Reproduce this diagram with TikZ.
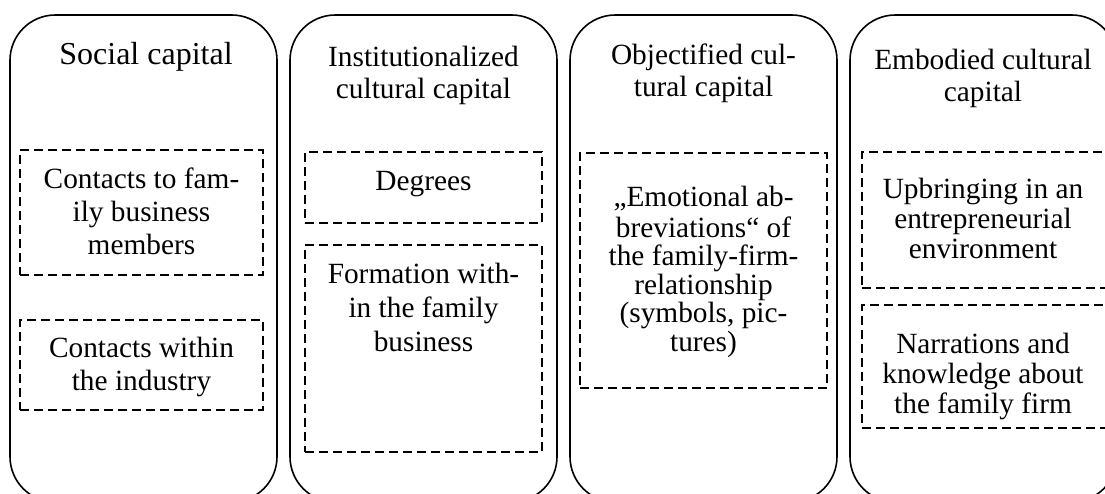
\documentclass[tikz,border=0pt]{standalone}
\usepackage{fontspec}
\setmainfont{Liberation Serif}
\begin{document}
\begin{tikzpicture}[x=0.75pt,y=-0.75pt,
  capbox/.style={draw, line width=1.2pt, rounded corners=34pt, minimum width=200.25pt, minimum height=365.25pt, inner sep=0pt},
  itembox/.style={draw, line width=1.5pt, dash pattern=on 6.5pt off 4pt, inner sep=0pt},
  lbl/.style={anchor=north, align=center, inner sep=0pt},
  ttl/.style={lbl, font=\fontsize{22}{24}\selectfont},
  ttlbig/.style={lbl, font=\fontsize{24}{26}\selectfont},
  txa/.style={lbl, font=\fontsize{22}{24.75}\selectfont},
  txb/.style={lbl, font=\fontsize{22}{25.5}\selectfont},
  txc/.style={lbl, font=\fontsize{22}{21.4}\selectfont},
  txd/.style={lbl, font=\fontsize{22}{22.5}\selectfont}]
\useasboundingbox (0,0) rectangle (1105,493);
\clip (0,0) rectangle (1105,493);
% main capital boxes
\node[capbox] (soc) at (143.5,258.5) {};
\node[capbox] (ins) at (423.5,258.5) {};
\node[capbox] (obj) at (703.5,258.5) {};
\node[capbox] (emb) at (983.5,258.5) {};
% titles
\node[ttlbig] (soct) at (146,39.7) {\strut Social capital};
\node[ttl] (inst) at (423.5,43.6) {\strut Institutionalized\\cultural capital};
\node[ttl] (objt) at (703.5,41.6) {\strut Objectified cul-\\tural capital};
\node[ttl] (embt) at (983,46.6) {\strut Embodied cultural\\capital};
% dashed item boxes
\node[itembox, minimum width=182.25pt, minimum height=93.75pt] (a1) at (141.5,212.5) {};
\node[itembox, minimum width=182.25pt, minimum height=67.5pt] (a2) at (141.5,365) {};
\node[itembox, minimum width=177.75pt, minimum height=53.25pt] (b1) at (423.5,187.5) {};
\node[itembox, minimum width=177.75pt, minimum height=155.25pt] (b2) at (423.5,348.5) {};
\node[itembox, minimum width=185.25pt, minimum height=176.25pt] (c1) at (703.5,270.5) {};
\node[itembox, minimum width=186pt, minimum height=102pt] (d1) at (986,220) {};
\node[itembox, minimum width=186pt, minimum height=92.25pt] (d2) at (986,366.5) {};
% item texts
\node[txa] (a1t) at (141.5,165) {\strut Contacts to fam-\\ily business\\members};
\node[txa] (a2t) at (141.5,334) {\strut Contacts within\\the industry};
\node[txb] (b1t) at (423.5,166) {\strut Degrees};
\node[txb] (b2t) at (423.5,259) {\strut Formation with-\\in the family\\business};
\node[txc] (c1t) at (703.5,186) {\strut „Emotional ab-\\breviations“ of\\the family-firm-\\relationship\\(symbols, pic-\\tures)};
\node[txd] (d1t) at (983,177) {\strut Upbringing in an\\entrepreneurial\\environment};
\node[txd] (d2t) at (983,332) {\strut Narrations and\\knowledge about\\the family firm};
\end{tikzpicture}
\end{document}
